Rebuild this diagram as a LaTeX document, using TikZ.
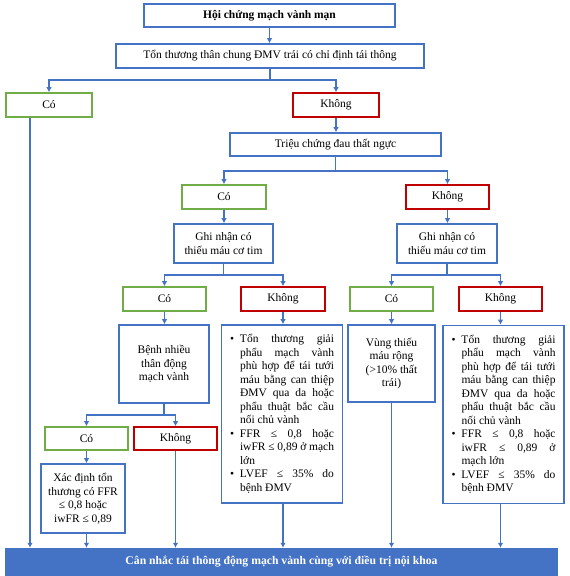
\documentclass[tikz,border=0pt]{standalone}
\usepackage{fontspec}
\setmainfont{Liberation Serif}
\usetikzlibrary{positioning, arrows.meta}

\definecolor{mblue}{HTML}{4472C4}
\definecolor{mgreen}{HTML}{70AD47}
\definecolor{mred}{HTML}{C00000}

\hyphenpenalty=10000
\exhyphenpenalty=10000
\tolerance=10000

\newcommand{\bitem}[1]{\noindent\hangindent=10pt\hangafter=1\hbox to 10pt{\textbullet\hfil}#1\par}

\begin{document}
\begin{tikzpicture}[x=1pt, y=-1pt,
	every node/.style={font=\fontsize{11.5}{13.5}\selectfont, inner sep=0pt},
	box/.style={draw=mblue, line width=1.6pt, rectangle, align=center},
	yesbox/.style={box, draw=mgreen, minimum width=84pt, minimum height=24pt},
	nobox/.style={box, draw=mred, minimum width=84pt, minimum height=24pt},
	listbox/.style={box, align=justify, text width=104pt, inner xsep=8.5pt, minimum height=178pt},
	bar/.style={fill=mblue, text=white, minimum width=553pt, minimum height=28pt,
		font=\fontsize{11.7}{13.5}\selectfont\bfseries},
	link/.style={draw=mblue, line width=1.2pt},
	arr/.style={link, -{Latex[length=5pt,width=5.5pt]}}
	]
	\useasboundingbox (0,0) rectangle (570,576);

	% top of the chart
	\node[box, minimum width=251pt, minimum height=23pt, font=\fontsize{11.5}{13.5}\selectfont\bfseries] (top) at (269.5,15.5) {Hội chứng mạch vành mạn};
	\node[box, minimum width=308pt, minimum height=24pt] (lmain) at (270,56) {Tổn thương thân chung ĐMV trái có chỉ định tái thông};
	\node[yesbox, minimum width=86pt] (co1) at (49,105) {Có};
	\node[nobox, minimum width=86pt] (kh1) at (336,105) {Không};
	\node[box, minimum width=211pt, minimum height=23pt] (pain) at (335.5,144.5) {Triệu chứng đau thất ngực};
	\node[yesbox] (co2) at (224,197) {Có};
	\node[nobox, minimum width=83pt] (kh2) at (447.5,197) {Không};
	\node[box, minimum width=99pt, minimum height=39pt] (ischL) at (223.5,243.5) {Ghi nhận có\\thiếu máu cơ tim};
	\node[box, minimum width=100pt, minimum height=39pt] (ischR) at (447,243.5) {Ghi nhận có\\thiếu máu cơ tim};
	\node[yesbox, minimum width=83pt] (co3) at (164.5,299) {Có};
	\node[nobox] (kh3) at (283,299) {Không};
	\node[yesbox, minimum width=83pt] (co4) at (391.5,299) {Có};
	\node[nobox, minimum width=83pt] (kh4) at (500.5,299) {Không};

	% lower boxes
	\node[box, minimum width=90pt, minimum height=78pt] (multi) at (164,364) {Bệnh nhiều\\thân động\\mạch vành};
	\node[listbox] (listL) at (282,414) {%
		\bitem{Tổn thương giải\linebreak phẩu mạch vành\linebreak phù hợp để tái tưới\linebreak máu bằng can thiệp\linebreak ĐMV qua da hoặc\linebreak phẩu thuật bắc cầu\linebreak nối chủ vành}
		\bitem{FFR ≤ 0,8 hoặc\linebreak iwFR ≤ 0,89 ở mạch\linebreak lớn}
		\bitem{LVEF ≤ 35\% do\linebreak bệnh ĐMV}};
	\node[box, minimum width=87pt, minimum height=77pt] (wide) at (391.5,363.5) {Vùng thiếu\\máu rộng\\(>10\% thất\\trái)};
	\node[listbox] (listR) at (503.5,414.5) {%
		\bitem{Tổn thương giải\linebreak phẩu mạch vành\linebreak phù hợp để tái tưới\linebreak máu bằng can thiệp\linebreak ĐMV qua da hoặc\linebreak phẩu thuật bắc cầu\linebreak nối chủ vành}
		\bitem{FFR ≤ 0,8 hoặc\linebreak iwFR ≤ 0,89 ở\linebreak mạch lớn}
		\bitem{LVEF ≤ 35\% do\linebreak bệnh ĐMV}};
	\node[yesbox, minimum width=83pt, minimum height=23pt] (co5) at (86.5,438.5) {Có};
	\node[nobox, minimum width=83pt, minimum height=23pt] (kh5) at (175.5,438.5) {Không};
	\node[box, minimum width=84pt, minimum height=69pt] (ffr) at (83,498.5) {Xác định tổn\\thương có FFR\\≤ 0,8 hoặc\\iwFR ≤ 0,89};
	\node[bar] (result) at (281.5,562) {Cân nhắc tái thông động mạch vành cùng với điều trị nội khoa};

	% branch points
	\coordinate (j1) at (270,80);
	\coordinate (j2) at (335.5,171);
	\coordinate (j3) at (223.5,275);
	\coordinate (j4) at (447,275);
	\coordinate (j5) at (164,415);

	% connectors
	\draw[arr] (top) -- (top |- lmain.north);
	\draw[link] (lmain.south) -- (j1);
	\draw[arr] (j1) -| (co1);
	\draw[arr] (j1) -| (kh1);
	\draw[arr] (kh1) -- (kh1 |- pain.north);
	\draw[link] (pain.south) -- (j2);
	\draw[arr] (j2) -| (co2);
	\draw[arr] (j2) -| (kh2);
	\draw[arr] (co2) -- (co2 |- ischL.north);
	\draw[arr] (kh2) -- (kh2 |- ischR.north);
	\draw[link] (ischL.south) -- (j3);
	\draw[arr] (j3) -| (co3);
	\draw[arr] (j3) -| (kh3);
	\draw[link] (ischR.south) -- (j4);
	\draw[arr] (j4) -| (co4);
	\draw[arr] (j4) -| (kh4);
	\draw[arr] (co3) -- (co3 |- multi.north);
	\draw[arr] (kh3) -- (kh3 |- listL.north);
	\draw[arr] (co4) -- (co4 |- wide.north);
	\draw[arr] (kh4) -- (kh4 |- listR.north);
	\draw[link] (multi.south) -- (j5);
	\draw[arr] (j5) -| (co5);
	\draw[arr] (j5) -| (kh5);
	\draw[arr] (co5) -- (co5 |- ffr.north);

	% into the bottom bar
	\draw[arr] ([xshift=-19pt]co1.south) -- ([xshift=-19pt]co1.south |- result.north);
	\draw[arr] (ffr.south -| co5) -- (co5 |- result.north);
	\draw[arr] (kh5) -- (kh5 |- result.north);
	\draw[arr] (listL.south -| kh3) -- (kh3 |- result.north);
	\draw[arr] (wide.south -| co4) -- (co4 |- result.north);
	\draw[arr] (listR.south -| kh4) -- (kh4 |- result.north);
\end{tikzpicture}
\end{document}
